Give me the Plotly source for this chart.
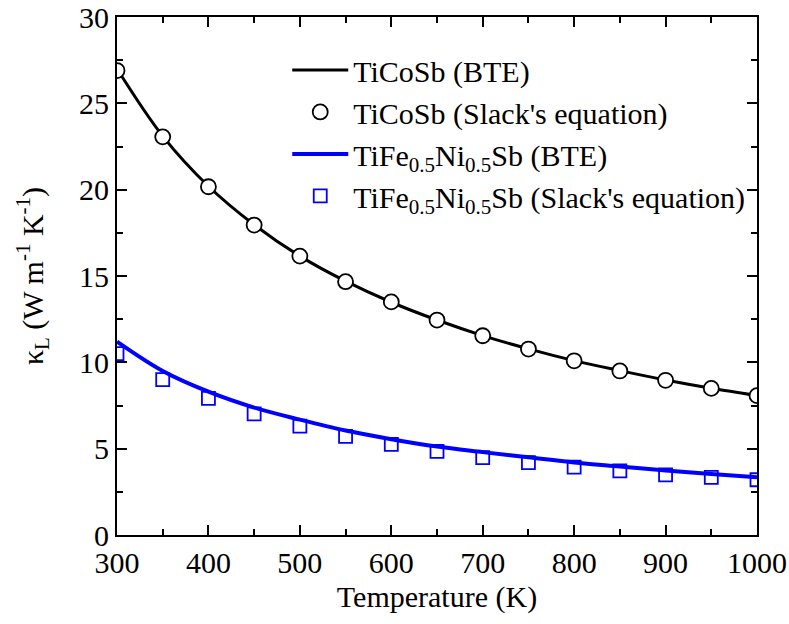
import plotly.graph_objects as go

temps = [300, 350, 400, 450, 500, 550, 600, 650, 700, 750, 800, 850, 900, 950, 1000]

ticosb_bte = [27.0, 23.1, 20.2, 17.97, 16.15, 14.7, 13.48, 12.45, 11.55, 10.78, 10.1, 9.52, 8.98, 8.5, 8.08]
ticosb_slack = [26.9, 23.06, 20.17, 17.95, 16.15, 14.67, 13.5, 12.45, 11.54, 10.77, 10.09, 9.5, 8.96, 8.49, 8.07]
tifeni_bte = [11.2, 9.5, 8.3, 7.38, 6.68, 6.05, 5.55, 5.12, 4.8, 4.5, 4.2, 3.97, 3.74, 3.53, 3.35]
tifeni_slack = [10.5, 9.0, 7.91, 7.02, 6.31, 5.71, 5.25, 4.84, 4.48, 4.19, 3.93, 3.71, 3.48, 3.34, 3.2]

x_ticks = [300, 400, 500, 600, 700, 800, 900, 1000]
y_ticks = [0, 5, 10, 15, 20, 25, 30]

FONT = "Liberation Serif"
FS = 30
BLUE = "#0000ff"

fig = go.Figure()
fig.add_trace(go.Scatter(x=temps, y=ticosb_bte, mode="lines", name="TiCoSb (BTE)",
                         line=dict(color="black", width=3, shape="spline")))
fig.add_trace(go.Scatter(x=temps, y=ticosb_slack, mode="markers", name="TiCoSb (Slack's equation)",
                         marker=dict(symbol="circle", size=15, color="white",
                                     line=dict(color="black", width=1.8))))
fig.add_trace(go.Scatter(x=temps, y=tifeni_bte, mode="lines",
                         name="TiFe<sub>0.5</sub>Ni<sub>0.5</sub>Sb (BTE)",
                         line=dict(color=BLUE, width=4, shape="spline")))
fig.add_trace(go.Scatter(x=temps, y=tifeni_slack, mode="markers",
                         name="TiFe<sub>0.5</sub>Ni<sub>0.5</sub>Sb (Slack's equation)",
                         marker=dict(symbol="square-open", size=13, color=BLUE,
                                     line=dict(color=BLUE, width=1.8))))

axis_common = dict(
    showline=True, linecolor="black", linewidth=2, mirror="ticks",
    ticks="inside", ticklen=10, tickwidth=2, tickcolor="black",
    showgrid=False, zeroline=False,
    tickfont=dict(family=FONT, size=FS, color="black"),
)

fig.update_xaxes(range=[300, 1000], tickvals=x_ticks, ticktext=[str(v) for v in x_ticks],
                 minor=dict(ticks="inside", ticklen=6, tickwidth=2, tickcolor="black", dtick=50),
                 title=dict(text="Temperature (K)", font=dict(family=FONT, size=FS, color="black"),
                            standoff=8),
                 **axis_common)
fig.update_yaxes(range=[0, 30], tickvals=y_ticks, ticktext=[str(v) for v in y_ticks],
                 minor=dict(ticks="inside", ticklen=6, tickwidth=2, tickcolor="black", dtick=2.5),
                 title=dict(text="κ<sub>L</sub> (W m<sup>-1</sup> K<sup>-1</sup>)",
                            font=dict(family=FONT, size=FS, color="black"), standoff=27),
                 **axis_common)

fig.update_layout(
    width=789, height=624,
    margin=dict(l=117, r=32, t=17, b=89, autoexpand=False),
    plot_bgcolor="white", paper_bgcolor="white",
    font=dict(family=FONT, size=FS, color="black"),
    showlegend=True,
    legend=dict(x=0.266, xanchor="left", y=0.948, yanchor="top",
                bgcolor="rgba(0,0,0,0)", borderwidth=0,
                font=dict(family=FONT, size=FS, color="black"),
                itemwidth=56, tracegroupgap=0),
)

fig.write_html("out.html")
